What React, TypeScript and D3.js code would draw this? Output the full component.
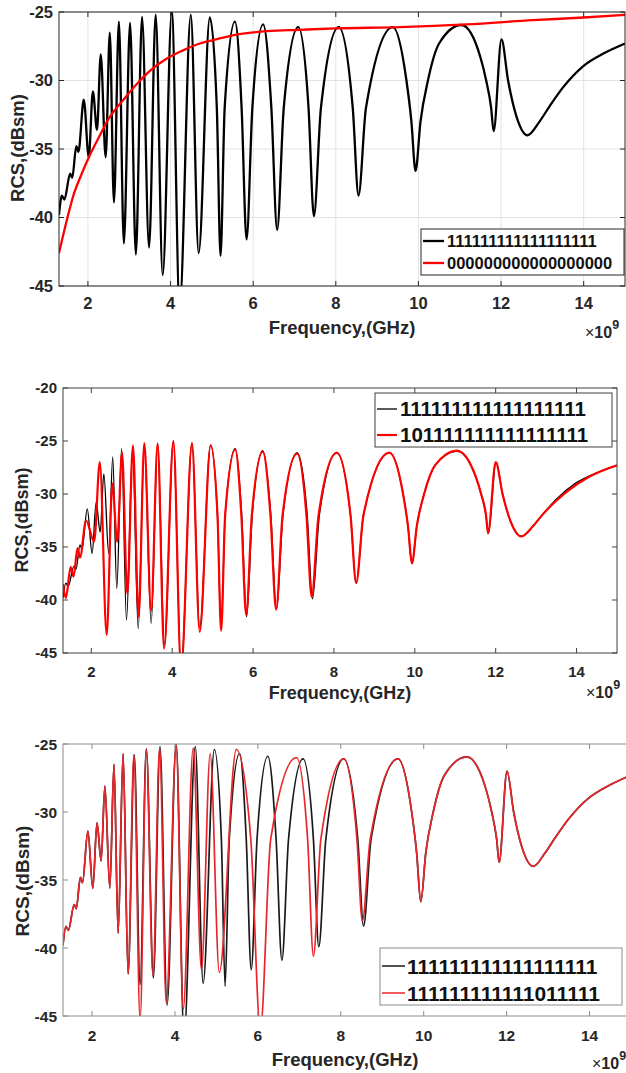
import React from "react";
import * as d3 from "d3";

// frequency in GHz (axis shows x1e9), RCS in dBsm
const allOnesGHz = [
  1.3, 1.37, 1.43, 1.57, 1.62, 1.72, 1.77, 1.9, 2.02, 2.12, 2.22, 2.31, 2.43, 2.53, 2.63, 2.75, 2.87,
  3.02, 3.16, 3.31, 3.48, 3.64, 3.81, 4.03, 4.22, 4.49, 4.68, 4.95, 5.12, 5.21, 5.31, 5.56, 5.72, 5.84,
  5.98, 6.24, 6.44, 6.58, 6.74, 7.09, 7.34, 7.47, 7.64, 8.07, 8.41, 8.55, 8.73, 9.38, 9.71, 9.83, 9.93,
  10.05, 10.23, 10.5, 11.04, 11.5, 11.64, 11.76, 11.82, 12.01, 12.17, 12.37, 12.64, 12.93, 13.17, 13.5,
  13.97, 14.5, 15,
];
const allOnesDb = [
  -39.8, -38.4, -38.7, -36.8, -37.1, -34.8, -35.2, -31.4, -35.6, -30.8, -33.6, -28.1, -35.6, -26.5, -38.9,
  -25.7, -41.9, -25.8, -42.7, -25.35, -42.2, -25.2, -44.2, -25.0, -46.5, -25.2, -42.6, -25.4, -32, -42.8,
  -32, -25.7, -32, -41.6, -32, -25.9, -32, -40.9, -32, -26.1, -32, -39.9, -32, -26.1, -32, -38.4, -32,
  -26.1, -30, -33, -36.6, -33, -30, -27.3, -25.95, -28.3, -30, -32, -33.7, -27.0, -30, -32.6, -34.0, -33.0,
  -31.9, -30.5, -29.0, -28.0, -27.3,
];

const allZerosGHz = [1.3, 1.44, 1.68, 1.81, 2.07, 2.29, 2.48, 2.89, 3.2, 3.5, 3.91, 4.3, 4.71, 5.1, 5.51, 6.33, 7.13, 8.0, 9.55, 11.17, 12.76, 14.0, 15];
const allZerosDb = [-42.6, -40.8, -38.1, -37.1, -35.3, -34.0, -32.9, -31.3, -30.2, -29.3, -28.4, -27.8, -27.3, -27.0, -26.7, -26.4, -26.3, -26.2, -26.1, -25.9, -25.6, -25.4, -25.2];

const code1011GHz = [
  1.3, 1.37, 1.49, 1.56, 1.66, 1.72, 1.87, 2.07, 2.21, 2.38, 2.52, 2.64, 2.76, 2.89, 3.03, 3.17, 3.31,
  3.48, 3.64, 3.8, 4.03, 4.22, 4.49, 4.68, 4.95, 5.12, 5.21, 5.31, 5.56, 5.71, 5.83, 5.97, 6.24, 6.43,
  6.57, 6.73, 7.09, 7.32, 7.45, 7.62, 8.07, 8.41, 8.55, 8.73, 9.37, 9.71, 9.83, 9.93, 10.05, 10.23, 10.5,
  11.04, 11.5, 11.64, 11.76, 11.81, 12.0, 12.17, 12.37, 12.63, 12.93, 13.17, 13.72, 14.3, 15,
];
const code1011Db = [
  -38.5, -39.8, -36.9, -37.8, -35.1, -36.0, -32.5, -34.5, -27.0, -43.3, -29.0, -34.5, -26.1, -39.4, -25.4,
  -41.6, -25.2, -41.0, -25.25, -44.6, -25.0, -46.5, -25.2, -43.0, -25.4, -32, -42.9, -32, -25.8, -32, -41.4,
  -32, -26.0, -32, -40.9, -32, -26.2, -32, -39.7, -32, -26.1, -32, -38.4, -32, -26.1, -30, -33, -36.5, -33,
  -30, -27.3, -25.9, -28.3, -30, -32, -33.7, -27.0, -30, -32.6, -34.0, -33.0, -31.9, -29.9, -28.4, -27.3,
];

const code0111GHz = [
  1.3, 1.37, 1.43, 1.57, 1.62, 1.72, 1.77, 1.9, 2.02, 2.12, 2.22, 2.31, 2.43, 2.53, 2.63, 2.75, 2.87,
  3.01, 3.16, 3.31, 3.47, 3.63, 3.79, 4.03, 4.2, 4.44, 4.64, 4.85, 5.07, 5.48, 5.83, 6.06, 6.31, 6.93,
  7.2, 7.34, 7.52, 8.07, 8.39, 8.52, 8.71, 9.38, 9.71, 9.83, 9.93, 10.05, 10.23, 10.5, 11.04, 11.5, 11.64,
  11.76, 11.82, 12.01, 12.17, 12.37, 12.64, 12.93, 13.17, 13.5, 13.97, 14.5, 15,
];
const code0111Db = [
  -39.8, -38.4, -38.7, -36.8, -37.1, -34.8, -35.2, -31.4, -35.6, -30.8, -33.6, -28.1, -35.6, -26.5, -38.9,
  -25.7, -41.9, -25.8, -45.3, -25.4, -42.0, -25.3, -44.0, -25.1, -44.5, -25.3, -41.6, -25.7, -41.8, -25.4,
  -32, -46.0, -32, -26.0, -32, -40.6, -32, -26.1, -32, -38.0, -32, -26.1, -30, -33, -36.6, -33, -30, -27.3,
  -25.95, -28.3, -30, -32, -33.7, -27.0, -30, -32.6, -34.0, -33.0, -31.9, -30.5, -29.0, -28.0, -27.3,
];

const freqTicks = [2, 4, 6, 8, 10, 12, 14];
const rcsTicks = [-45, -40, -35, -30, -25];
const rcsTicksWide = [-45, -40, -35, -30, -25, -20];
const labelsTop = ["111111111111111111", "000000000000000000"];
const labelsMid = ["111111111111111111", "101111111111111111"];
const labelsLow = ["111111111111111111", "111111111111011111"];

const FONT = "'Liberation Sans', Arial, sans-serif";

const zip = (xs: number[], ys: number[]) => xs.map((x, i) => [x, ys[i]] as [number, number]);

type Series = { pts: [number, number][]; color: string; width: number; label: string; legendWidth: number };

type PanelProps = {
  id: string;
  left: number; right: number; top: number; bottom: number;
  yMax: number; yTicks: number[];
  grid: boolean; axisColor: string;
  tickSize: number; tickBase: number; tickRight: number;
  xTitle: { cx: number; base: number; size: number };
  yTitle: { cy: number; base: number; size: number };
  expo: { x: number; base: number };
  legend: { x0: number; x1: number; y0: number; y1: number; lx0: number; lx1: number; tx: number; rows: number[]; size: number; border: string };
  series: Series[];
};

function Panel(p: PanelProps) {
  const x = d3.scaleLinear().domain([1.3, 15]).range([p.left, p.right]);
  const y = d3.scaleLinear().domain([-45, p.yMax]).range([p.bottom, p.top]);
  const line = d3
    .line<[number, number]>()
    .x((d) => x(d[0]))
    .y((d) => y(d[1]))
    .curve(d3.curveMonotoneX);
  const tl = 5;
  return (
    <g>
      <clipPath id={p.id}>
        <rect x={p.left} y={p.top} width={p.right - p.left} height={p.bottom - p.top} />
      </clipPath>
      <rect x={p.left} y={p.top} width={p.right - p.left} height={p.bottom - p.top} fill="#fff" />
      {p.grid &&
        freqTicks.map((t) => (
          <line key={"gx" + t} x1={x(t)} x2={x(t)} y1={p.top} y2={p.bottom} stroke="#e3e3e3" strokeWidth={1} />
        ))}
      {p.grid &&
        p.yTicks.map((t) => (
          <line key={"gy" + t} x1={p.left} x2={p.right} y1={y(t)} y2={y(t)} stroke="#e3e3e3" strokeWidth={1} />
        ))}
      <g clipPath={`url(#${p.id})`}>
        {p.series.map((s, i) => (
          <path key={i} d={line(s.pts) || ""} fill="none" stroke={s.color} strokeWidth={s.width} strokeLinejoin="round" />
        ))}
      </g>
      <rect x={p.left} y={p.top} width={p.right - p.left} height={p.bottom - p.top} fill="none" stroke={p.axisColor} strokeWidth={1} />
      {freqTicks.map((t) => (
        <g key={"tx" + t}>
          <line x1={x(t)} x2={x(t)} y1={p.bottom} y2={p.bottom - tl} stroke={p.axisColor} />
          <line x1={x(t)} x2={x(t)} y1={p.top} y2={p.top + tl} stroke={p.axisColor} />
          <text x={x(t)} y={p.tickBase} textAnchor="middle" fontSize={p.tickSize} fontWeight="bold" fill="#262626">
            {t}
          </text>
        </g>
      ))}
      {p.yTicks.map((t) => (
        <g key={"ty" + t}>
          <line x1={p.left} x2={p.left + tl} y1={y(t)} y2={y(t)} stroke={p.axisColor} />
          <line x1={p.right} x2={p.right - tl} y1={y(t)} y2={y(t)} stroke={p.axisColor} />
          <text x={p.tickRight} y={y(t)} dy="0.36em" textAnchor="end" fontSize={p.tickSize} fontWeight="bold" fill="#262626">
            {t}
          </text>
        </g>
      ))}
      <text x={p.xTitle.cx} y={p.xTitle.base} textAnchor="middle" fontSize={p.xTitle.size} fontWeight="bold" fill="#262626">
        Frequency,(GHz)
      </text>
      <text
        transform={`translate(${p.yTitle.base},${p.yTitle.cy}) rotate(-90)`}
        textAnchor="middle"
        fontSize={p.yTitle.size}
        fontWeight="bold"
        fill="#262626"
      >
        RCS,(dBsm)
      </text>
      <text x={p.expo.x} y={p.expo.base} fontSize={16} fill="#262626">
        ×<tspan fontWeight="bold">10</tspan>
        <tspan dy={-9} fontSize={12.5} fontWeight="bold">9</tspan>
      </text>
      <rect
        x={p.legend.x0}
        y={p.legend.y0}
        width={p.legend.x1 - p.legend.x0}
        height={p.legend.y1 - p.legend.y0}
        fill="#fff"
        stroke={p.legend.border}
        strokeWidth={1}
      />
      {p.series.map((s, i) => (
        <g key={"lg" + i}>
          <line x1={p.legend.lx0} x2={p.legend.lx1} y1={p.legend.rows[i]} y2={p.legend.rows[i]} stroke={s.color} strokeWidth={s.legendWidth} />
          <text x={p.legend.tx} y={p.legend.rows[i]} dy="0.36em" fontSize={p.legend.size} fontWeight="bold" fill="#111">
            {s.label}
          </text>
        </g>
      ))}
    </g>
  );
}

export default function App() {
  const black = zip(allOnesGHz, allOnesDb);
  return (
    <svg
      width={626}
      height={1073}
      style={{ position: "absolute", left: 0, top: 0, background: "#fff" }}
      fontFamily={FONT}
    >
      <Panel
        id="c1"
        left={59} right={625} top={12} bottom={286}
        yMax={-25} yTicks={rcsTicks}
        grid={true} axisColor="#262626"
        tickSize={16.5} tickBase={309} tickRight={53}
        xTitle={{ cx: 342, base: 334, size: 18.5 }}
        yTitle={{ cy: 148, base: 24, size: 18.5 }}
        expo={{ x: 585, base: 338 }}
        legend={{ x0: 421, x1: 624, y0: 229, y1: 275, lx0: 423, lx1: 444, tx: 447, rows: [241, 263], size: 16.5, border: "#262626" }}
        series={[
          { pts: black, color: "#000", width: 2.3, label: labelsTop[0], legendWidth: 2.3 },
          { pts: zip(allZerosGHz, allZerosDb), color: "#ff0000", width: 2.3, label: labelsTop[1], legendWidth: 2.3 },
        ]}
      />
      <Panel
        id="c2"
        left={63} right={617} top={388} bottom={653}
        yMax={-20} yTicks={rcsTicksWide}
        grid={false} axisColor="#404040"
        tickSize={15} tickBase={677} tickRight={57}
        xTitle={{ cx: 340, base: 699, size: 18 }}
        yTitle={{ cy: 520, base: 28, size: 18 }}
        expo={{ x: 586, base: 698 }}
        legend={{ x0: 375, x1: 612, y0: 393, y1: 447, lx0: 377, lx1: 397, tx: 400, rows: [409, 435], size: 20.5, border: "#404040" }}
        series={[
          { pts: black, color: "#000", width: 1.3, label: labelsMid[0], legendWidth: 1.3 },
          { pts: zip(code1011GHz, code1011Db), color: "#ff0000", width: 2.2, label: labelsMid[1], legendWidth: 2.2 },
        ]}
      />
      <Panel
        id="c3"
        left={63} right={631} top={744} bottom={1016}
        yMax={-25} yTicks={rcsTicks}
        grid={false} axisColor="#8c8c8c"
        tickSize={15.5} tickBase={1041} tickRight={57}
        xTitle={{ cx: 345, base: 1066, size: 18.5 }}
        yTitle={{ cy: 881, base: 29, size: 19 }}
        expo={{ x: 592, base: 1069 }}
        legend={{ x0: 380, x1: 622, y0: 948, y1: 1005, lx0: 382, lx1: 405, tx: 407, rows: [966, 993], size: 21, border: "#8c8c8c" }}
        series={[
          { pts: black, color: "#1a1a1a", width: 1.7, label: labelsLow[0], legendWidth: 1.5 },
          { pts: zip(code0111GHz, code0111Db), color: "#e8262b", width: 1.7, label: labelsLow[1], legendWidth: 1.5 },
        ]}
      />
    </svg>
  );
}
